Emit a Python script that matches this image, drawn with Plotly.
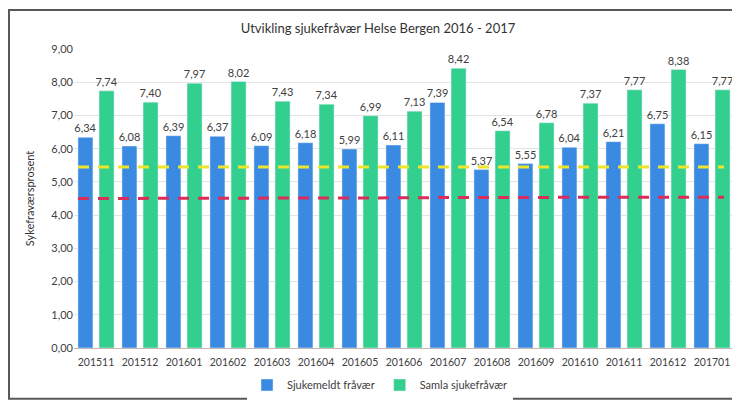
import plotly.graph_objects as go

categories = ["201511", "201512", "201601", "201602", "201603", "201604", "201605",
              "201606", "201607", "201608", "201609", "201610", "201611", "201612", "201701"]
sjukemeldt = [6.34, 6.08, 6.39, 6.37, 6.09, 6.18, 5.99, 6.11, 7.39, 5.37, 5.55, 6.04, 6.21, 6.75, 6.15]
samla = [7.74, 7.40, 7.97, 8.02, 7.43, 7.34, 6.99, 7.13, 8.42, 6.54, 6.78, 7.37, 7.77, 8.38, 7.77]
line_yellow = [5.45] * 15
line_red = [4.50, 4.50, 4.50, 4.51, 4.51, 4.52, 4.52, 4.52, 4.53, 4.53, 4.53, 4.54, 4.54, 4.54, 4.54]
y_ticks = [0, 1, 2, 3, 4, 5, 6, 7, 8, 9]

W, H = 740, 403
ML, MR, MT, MB = 66, 14, 41, 55
FONT = "Lato, 'Open Sans', sans-serif"
TXT = "#404040"

fig = go.Figure()
fig.add_trace(go.Bar(
    x=categories, y=sjukemeldt, name="Sjukemeldt fråvær",
    marker_color="#3B8AE2", texttemplate="%{y:.2f}", textposition="outside",
    textfont=dict(size=11, color=TXT, family=FONT), cliponaxis=False,
    constraintext="none",
))
fig.add_trace(go.Bar(
    x=categories, y=samla, name="Samla sjukefråvær",
    marker_color="#33CF8E", texttemplate="%{y:.2f}", textposition="outside",
    textfont=dict(size=11, color=TXT, family=FONT), cliponaxis=False,
    constraintext="none",
))
idx = list(range(len(categories)))
fig.add_trace(go.Scatter(
    x=idx, y=line_yellow, xaxis="x2", mode="lines", showlegend=False,
    line=dict(color="#EDE52A", width=3, dash="11px,9px"), hoverinfo="skip",
))
fig.add_trace(go.Scatter(
    x=idx, y=line_red, xaxis="x2", mode="lines", showlegend=False,
    line=dict(color="#DC2C5A", width=3, dash="11px,9px"), hoverinfo="skip",
))

pw = W - ML - MR
ph = H - MT - MB
x2_scale = (716 - 70) / 14.0
x2_lo = -(70 - ML) / x2_scale
x2_hi = 14 + (W - MR - 716) / x2_scale

fig.update_layout(
    width=W, height=H,
    margin=dict(l=ML, r=MR, t=MT, b=MB),
    paper_bgcolor="white", plot_bgcolor="white",
    separators=", ",
    barmode="group", bargap=0.04, bargroupgap=0.29,
    font=dict(family=FONT, size=11, color=TXT),
    title=dict(text="Utvikling sjukefråvær Helse Bergen 2016 - 2017",
               x=0.5, xref="container", xanchor="center",
               y=1 - 20 / H, yref="container", yanchor="middle",
               font=dict(size=13, color="#333333", family=FONT)),
    xaxis=dict(type="category", showgrid=False, showline=True, linecolor="#C8B4B0",
               linewidth=1, ticks="", tickfont=dict(size=10.5, color=TXT),
               ticklabelstandoff=4),
    xaxis2=dict(overlaying="x", range=[x2_lo, x2_hi], visible=False),
    yaxis=dict(range=[0, 9], tickvals=y_ticks, tickformat=".2f",
               showgrid=True, gridcolor="#E4E4E4", gridwidth=1, zeroline=False,
               showline=False, ticks="", tickfont=dict(size=11, color=TXT),
               title=dict(text="Sykefraværsprosent", font=dict(size=11, color="#333333"),
                          standoff=14)),
    legend=dict(orientation="h", x=(372 - ML) / pw, xanchor="center",
                y=-(386 - (H - MB)) / ph, yanchor="middle",
                font=dict(size=11, color=TXT), traceorder="normal",
                itemwidth=30, tracegroupgap=0),
    shapes=[dict(type="rect", xref="paper", yref="paper",
                 x0=-(ML - 1) / pw, x1=(pw + MR + 2) / pw,
                 y0=-(MB - 3) / ph, y1=1 + (MT - 1) / ph,
                 line=dict(color="#595959", width=2), fillcolor="rgba(0,0,0,0)",
                 layer="above")],
)

fig.write_html("out.html")
